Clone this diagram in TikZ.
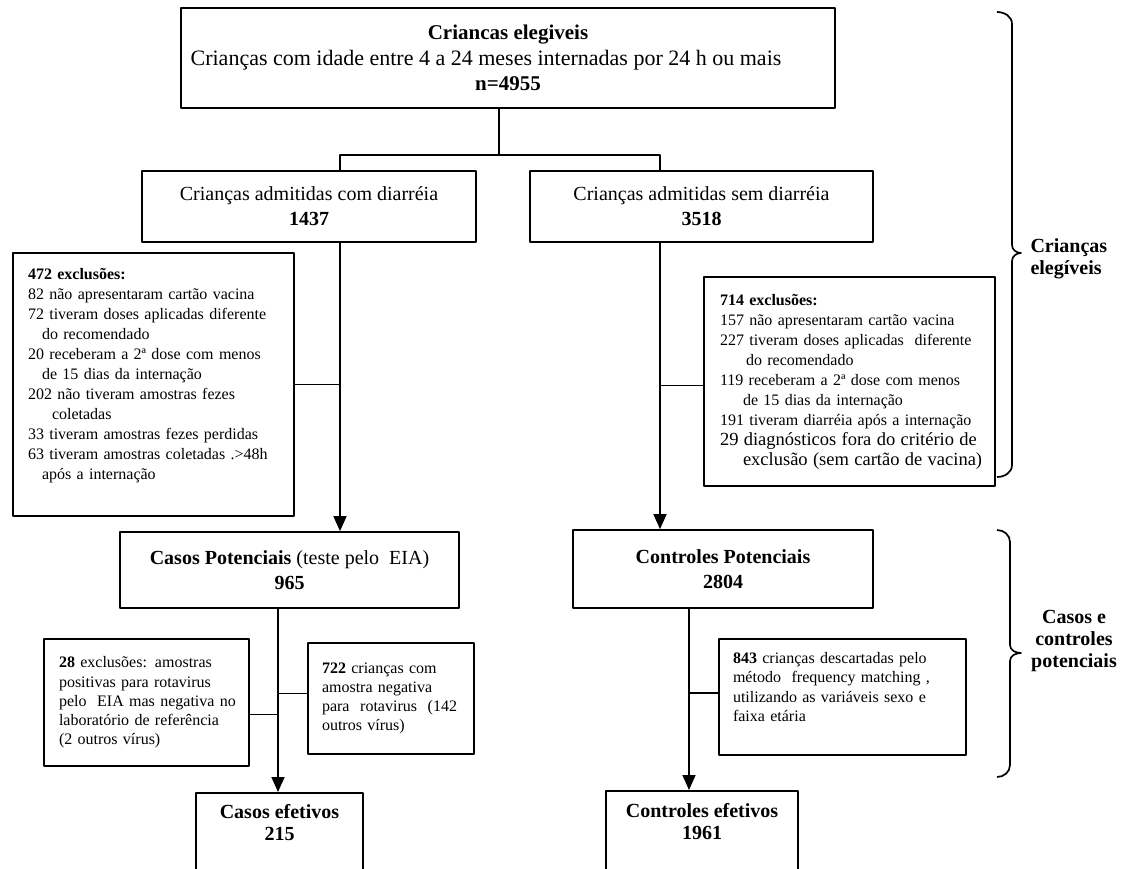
\documentclass[tikz,border=0pt]{standalone}
\usepackage{fontspec}
\setmainfont{Liberation Serif}
\usetikzlibrary{arrows.meta}
\begin{document}
\begin{tikzpicture}[x=0.5pt,y=-0.5pt,>={Triangle[length=7.5pt,width=6.5pt]},line join=round,line width=0.85pt,
	hop/.style={draw,align=center,inner sep=0pt,font=\fontsize{10}{12.5}\selectfont},
	loai/.style={draw,align=left,inner ysep=0pt,font=\fontsize{8}{10}\selectfont},
	loainho/.style={loai,font=\fontsize{8}{9.6}\selectfont},
	nhan/.style={align=center,font=\fontsize{10}{11}\selectfont\bfseries}]
	
	\useasboundingbox (0,0) rectangle (1129,868);
	\node[hop,minimum width=327pt,minimum height=50pt,font=\fontsize{10.5}{12.75}\selectfont] (topo) at (508,58) {\textbf{Criancas elegiveis}\\{\fontsize{11}{12.75}\selectfont Crianças com idade entre 4 a 24 meses internadas por 24 h ou mais\rule{22pt}{0pt}}\\\textbf{n=4955}};
	\node[hop,minimum width=167pt,minimum height=35.5pt] (comdiar) at (309,206.5) {Crianças admitidas com diarréia\\\textbf{1437}};
	\node[hop,minimum width=171.5pt,minimum height=35.5pt] (semdiar) at (701.5,206.5) {Crianças admitidas sem diarréia\\\textbf{3518}};
	
	% Vẽ các ô loại trừ
	\node[loai,text width=125.5pt,inner xsep=7.5pt,minimum height=131.5pt] (excA) at (153.5,384.5) {\textbf{472 exclusões:}\\
		82 não apresentaram cartão vacina\\
		\mbox{72 tiveram doses aplicadas diferente}\\
		\hspace*{7pt}do recomendado\\
		20 receberam a 2ª dose com menos\\
		\hspace*{7pt}de 15 dias da internação\\
		202 não tiveram amostras fezes\\
		\hspace*{12pt}coletadas\\
		\mbox{33 tiveram amostras fezes perdidas}\\
		\mbox{63 tiveram amostras coletadas .>48h}\\
		\hspace*{7pt}após a internação\rule[-11pt]{0pt}{0pt}};
	\node[loai,text width=129.5pt,inner xsep=8pt,minimum height=104.5pt] (excB) at (849.5,381.5) {\textbf{714 exclusões:}\\
		157 não apresentaram cartão vacina\\
		\mbox{227 tiveram doses aplicadas\ \ diferente}\\
		\hspace*{13pt}do recomendado\\
		119 receberam a 2ª dose com menos\\
		\hspace*{11.5pt}de 15 dias da internação\\
		\mbox{191 tiveram diarréia após a internação}\\
		{\fontsize{9.25}{10.5}\selectfont\mbox{29 diagnósticos fora do critério de}}\\
		{\fontsize{9.25}{10.5}\selectfont\mbox{\hspace*{11.5pt}exclusão (sem cartão de vacina)}}};
	
	\node[hop,minimum width=169.5pt,minimum height=38pt] (casospot) at (289.5,570) {\textbf{Casos Potenciais} (teste pelo\ \ EIA)\\\textbf{965}};
	\node[hop,minimum width=150pt,minimum height=39pt] (contpot) at (723,569) {\textbf{Controles Potenciais}\\\textbf{2804}};
	
	\node[loainho,text width=87.5pt,inner xsep=7.5pt,minimum height=63.5pt] (exc28) at (146.5,702.5) {\mbox{\textbf{28} exclusões: amostras}\\
		positivas para rotavirus\\
		\mbox{pelo\ \ EIA mas negativa no}\\
		laboratório de referência\\
		(2 outros vírus)};
	\node[loainho,text width=69pt,inner xsep=7pt,minimum height=55.5pt] (exc722) at (391,698.5) {\textbf{722} crianças com\\
		amostra negativa\\
		\mbox{para\ \ rotavirus\ \ (142}\\
		outros vírus)};
	\node[loainho,text width=109.5pt,inner xsep=7pt,minimum height=58pt] (exc843) at (842.5,697) {\mbox{\textbf{843} crianças descartadas pelo}\\
		\mbox{método\ \ frequency matching ,}\\
		\mbox{utilizando as variáveis sexo e}\\
		faixa etária\rule[-10pt]{0pt}{0pt}};
	
	% Ô cuối bị cắt ở mép dưới
	\node[draw,anchor=north,minimum width=83.5pt,minimum height=45pt] (casosef) at (279.5,792) {};
	\node[nhan] (tcasosef) at (279.5,823) {Casos efetivos\\215};
	\node[draw,anchor=north,minimum width=96pt,minimum height=46pt] (contef) at (702,790) {};
	\node[nhan] (tcontef) at (702,822) {Controles efetivos\\1961};
	
	% Vẽ các đường nối
	\coordinate (xA) at (340,155);
	\coordinate (xB) at (660,155);
	\coordinate (xC) at (278,700);
	\coordinate (xD) at (689,700);
	\draw (topo.south -| 499,0) -- (499,155);
	\draw (xA |- comdiar.north) -- (xA) -- (xB) -- (xB |- semdiar.north);
	\draw[->] (xA |- comdiar.south) -- (xA |- casospot.north);
	\draw (excA.east) -- (excA.east -| xA);
	\draw[->] (xB |- semdiar.south) -- (xB |- contpot.north);
	\draw ([yshift=-2pt]excB.west -| xB) -- ([yshift=-2pt]excB.west);
	\draw[->] (xC |- casospot.south) -- (xC |- casosef.north);
	\draw ([yshift=-6pt]exc28.east) -- ([yshift=-6pt]exc28.east -| xC);
	\draw ([yshift=2.5pt]exc722.west -| xC) -- ([yshift=2.5pt]exc722.west);
	\draw[->] (xD |- contpot.south) -- (xD |- contef.north);
	\draw ([yshift=2pt]exc843.west -| xD) -- ([yshift=2pt]exc843.west);
	
	% Vẽ dấu ngoặc bên phải
	\draw (997,12) to[out=0,in=90] (1012,24) -- (1012,245) to[out=-90,in=180] (1021,253) to[out=180,in=90] (1012,261) -- (1012,465) to[out=-90,in=0] (997,477);
	\draw (997,530) to[out=0,in=90] (1010,542) -- (1010,645) to[out=-90,in=180] (1021,653) to[out=180,in=90] (1010,661) -- (1010,765) to[out=-90,in=0] (997,777);
	\node[nhan,anchor=west,align=left] (rotA) at (1023,259) {Crianças\\elegíveis};
	\node[nhan] (rotB) at (1074,641) {Casos e\\controles\\potenciais};
\end{tikzpicture}
\end{document}
